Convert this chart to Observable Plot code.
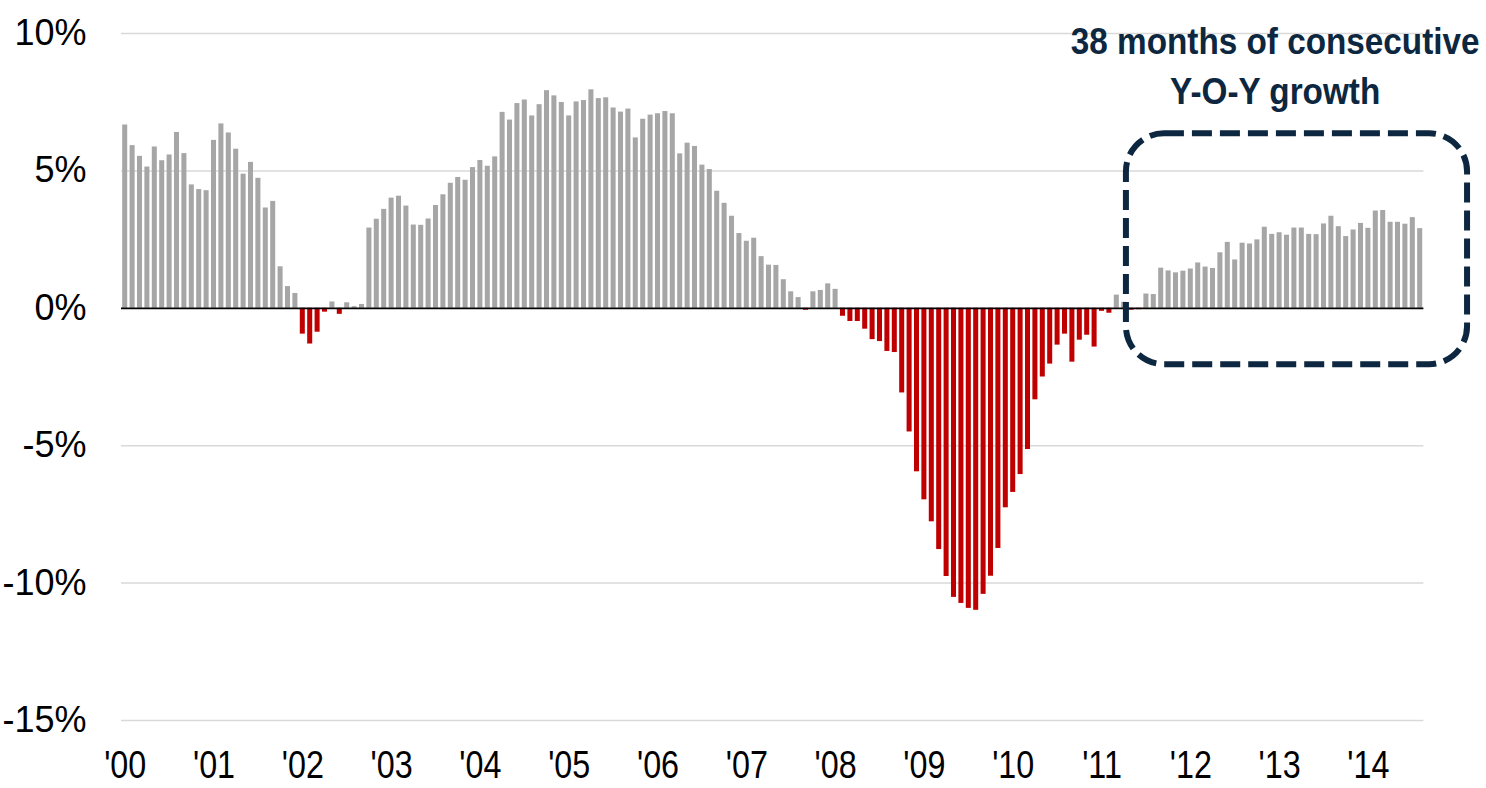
<!DOCTYPE html>
<html>
<head>
<meta charset="utf-8">
<script src="https://cdn.jsdelivr.net/npm/d3@7"></script>
<script src="https://cdn.jsdelivr.net/npm/@observablehq/plot@0.6"></script>
<style>
html, body { margin: 0; padding: 0; background: #fff; }
#chart svg { display: block; }
</style>
</head>
<body>
<div id="chart"></div>
<script>
// Year tick labels (one per January)
const yearLabels = ["'00","'01","'02","'03","'04","'05","'06","'07","'08","'09","'10","'11","'12","'13","'14"];

// Monthly year-over-year growth, % (Jan..Dec per year)
const y2000 = [6.67, 5.92, 5.53, 5.14, 5.87, 5.37, 5.58, 6.40, 5.63, 4.49, 4.32, 4.28];
const y2001 = [6.11, 6.71, 6.38, 5.79, 4.88, 5.31, 4.73, 3.65, 3.89, 1.51, 0.79, 0.54];
const y2002 = [-0.94, -1.30, -0.87, -0.14, 0.23, -0.22, 0.20, 0.06, 0.14, 2.92, 3.24, 3.60];
const y2003 = [4.01, 4.08, 3.72, 3.03, 3.02, 3.25, 3.74, 4.13, 4.55, 4.76, 4.66, 5.12];
const y2004 = [5.38, 5.17, 5.51, 7.13, 6.85, 7.45, 7.58, 7.00, 7.41, 7.92, 7.73, 7.49];
const y2005 = [7.00, 7.51, 7.56, 7.95, 7.63, 7.66, 7.29, 7.14, 7.25, 6.20, 6.88, 7.03];
const y2006 = [7.08, 7.16, 7.08, 5.62, 6.01, 5.89, 5.21, 5.05, 4.26, 3.82, 3.35, 2.72];
const y2007 = [2.44, 2.55, 1.88, 1.57, 1.56, 1.04, 0.60, 0.39, -0.07, 0.60, 0.65, 0.89];
const y2008 = [0.69, -0.29, -0.48, -0.48, -0.76, -1.14, -1.21, -1.57, -1.61, -3.08, -4.50, -5.95];
const y2009 = [-6.97, -7.77, -8.78, -9.76, -10.52, -10.74, -10.92, -10.99, -10.41, -9.75, -8.74, -7.26];
const y2010 = [-6.70, -6.05, -5.14, -3.33, -2.50, -2.03, -1.34, -0.94, -1.96, -1.16, -0.98, -1.41];
const y2011 = [-0.11, -0.18, 0.48, 0.22, -0.07, -0.05, 0.52, 0.50, 1.46, 1.36, 1.29, 1.35];
const y2012 = [1.43, 1.65, 1.50, 1.45, 2.02, 2.40, 1.76, 2.37, 2.34, 2.49, 2.95, 2.69];
const y2013 = [2.75, 2.66, 2.92, 2.92, 2.69, 2.68, 3.07, 3.35, 2.97, 2.61, 2.85, 3.09];
const y2014 = [2.91, 3.54, 3.56, 3.13, 3.13, 3.06, 3.30, 2.90];

// Y axis ticks (%)
const yTicks = [-15, -10, -5, 0, 5, 10];

// Annotation
const annotationLines = ["38 months of consecutive", "Y-O-Y growth"];

const values = [].concat(y2000, y2001, y2002, y2003, y2004, y2005, y2006, y2007,
                         y2008, y2009, y2010, y2011, y2012, y2013, y2014);
const data = values.map((v, i) => ({ i, v }));
const n = values.length;

const navy = "#0d2740";
const sans = "'Liberation Sans', Arial, sans-serif";

const plot = Plot.plot({
  width: 1486,
  height: 788,
  marginLeft: 121,
  marginRight: 62.6,
  marginTop: 33,
  marginBottom: 68,
  x: { type: "linear", domain: [-0.5, n - 0.5], axis: null },
  y: { domain: [-15, 10], axis: null },
  style: { fontFamily: sans, background: "#fff", color: "#000" },
  marks: [
    Plot.ruleY(yTicks.filter(d => d !== 0), { stroke: "#d9d9d9", strokeWidth: 1.5 }),
    Plot.rectY(data.filter(d => d.v >= 0), {
      x1: d => d.i - 0.34, x2: d => d.i + 0.34, y1: 0, y2: "v", fill: "#a6a6a6"
    }),
    Plot.rectY(data.filter(d => d.v < 0), {
      x1: d => d.i - 0.34, x2: d => d.i + 0.34, y1: 0, y2: "v", fill: "#c00000"
    }),
    Plot.ruleY([0], { stroke: "#000", strokeWidth: 1.75 }),
    Plot.axisY({
      ticks: yTicks, tickSize: 0, tickPadding: 35,
      tickFormat: d => d + "%", fontSize: 36, label: null
    }),
    Plot.axisX({
      ticks: d3.range(0, n, 12), tickSize: 0, tickPadding: 31,
      tickFormat: d => yearLabels[d / 12], fontSize: 38, label: null,
      className: "xlabels"
    }),
    Plot.rect([{ a: 135.3, b: 181.4, lo: -2.05, hi: 6.35 }], {
      x1: "a", x2: "b", y1: "lo", y2: "hi", rx: 38,
      fill: "none", stroke: navy, strokeWidth: 6, strokeDasharray: "20,8"
    }),
    Plot.text([annotationLines.join("\n")], {
      x: () => 155.4, y: () => 10.54, text: d => d,
      lineAnchor: "top", textAnchor: "middle", lineHeight: 1.35,
      fontSize: 37, fontWeight: "bold", fill: navy, className: "annot"
    })
  ]
});

// Condense the narrow-font texts (no narrow face is installed)
function condense(sel, k) {
  d3.select(plot).selectAll(sel).each(function () {
    const t = this.getAttribute("transform") || "";
    this.setAttribute("transform", t + ` scale(${k},1)`);
  });
}
condense("g.xlabels text", 0.85);
condense("g.annot text", 0.9);

document.getElementById("chart").appendChild(plot);
</script>
</body>
</html>
